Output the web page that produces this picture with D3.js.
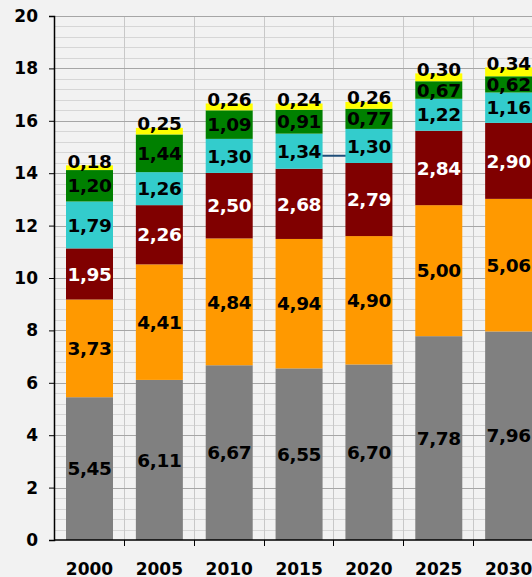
<!DOCTYPE html>
<html>
<head>
<meta charset="utf-8">
<script src="https://cdn.jsdelivr.net/npm/d3@7"></script>
<style>
  html, body { margin: 0; padding: 0; background: #f2f2f2; }
  svg { display: block; }
  text { font-family: "DejaVu Sans", Verdana, sans-serif; font-weight: bold; }
</style>
</head>
<body>
<svg id="chart" width="532" height="577"></svg>
<script>
// Categories and stacked series (bottom to top)
const years = ["2000", "2005", "2010", "2015", "2020", "2025", "2030"];
const seriesGray   = [5.45, 6.11, 6.67, 6.55, 6.70, 7.78, 7.96];
const seriesOrange = [3.73, 4.41, 4.84, 4.94, 4.90, 5.00, 5.06];
const seriesRed    = [1.95, 2.26, 2.50, 2.68, 2.79, 2.84, 2.90];
const seriesCyan   = [1.79, 1.26, 1.30, 1.34, 1.30, 1.22, 1.16];
const seriesGreen  = [1.20, 1.44, 1.09, 0.91, 0.77, 0.67, 0.62];
const seriesYellow = [0.18, 0.25, 0.26, 0.24, 0.26, 0.30, 0.34];
const yTicks = [0, 2, 4, 6, 8, 10, 12, 14, 16, 18, 20];
// Short line series visible between two bars
const lineYears  = ["2015", "2020"];
const lineValues = [14.67, 14.67];

const series = [
  { key: "gray",   values: seriesGray,   fill: "#808080", text: "#000" },
  { key: "orange", values: seriesOrange, fill: "#ff9900", text: "#000" },
  { key: "red",    values: seriesRed,    fill: "#800000", text: "#fff" },
  { key: "cyan",   values: seriesCyan,   fill: "#33cccc", text: "#000" },
  { key: "green",  values: seriesGreen,  fill: "#008000", text: "#000" },
  { key: "yellow", values: seriesYellow, fill: "#ffff00", text: "#000", above: true }
];

const rows = years.map((yr, i) => {
  const r = { year: yr };
  series.forEach(s => r[s.key] = s.values[i]);
  return r;
});
const stacked = d3.stack().keys(series.map(s => s.key))(rows);

const svg = d3.select("#chart");
const m = { left: 54, top: 16, bottom: 540, right: 543 };

const x = d3.scaleBand().domain(years).range([m.left, m.right]).paddingInner(0).paddingOuter(0);
const y = d3.scaleLinear().domain([0, 20]).range([m.bottom, m.top]);
const fmt = v => d3.format(".2f")(v).replace(".", ",");

// Minor horizontal grid
const minor = d3.range(0, 20.01, 0.4).filter(v => Math.abs(v / 2 - Math.round(v / 2)) > 1e-6);
svg.append("g").selectAll("line").data(minor).join("line")
  .attr("x1", m.left).attr("x2", m.right)
  .attr("y1", d => Math.round(y(d)) + 0.5).attr("y2", d => Math.round(y(d)) + 0.5)
  .attr("stroke", "#d6d6d6").attr("stroke-width", 1);

// Vertical grid at category boundaries
svg.append("g").selectAll("line").data(years.slice(1)).join("line")
  .attr("x1", d => Math.round(x(d)) + 0.5).attr("x2", d => Math.round(x(d)) + 0.5)
  .attr("y1", m.top).attr("y2", m.bottom)
  .attr("stroke", "#c8c8c8").attr("stroke-width", 1);

// Major horizontal grid
svg.append("g").selectAll("line").data(yTicks.slice(1)).join("line")
  .attr("x1", m.left).attr("x2", m.right)
  .attr("y1", d => Math.round(y(d)) + 0.5).attr("y2", d => Math.round(y(d)) + 0.5)
  .attr("stroke", "#a6a6a6").attr("stroke-width", 1);

// Line series drawn behind the bars
const lx = d => x(d) + x.bandwidth() / 2;
svg.append("path")
  .datum(lineYears.map((d, i) => [lx(d), y(lineValues[i])]))
  .attr("d", d3.line())
  .attr("fill", "none").attr("stroke", "#1f4e79").attr("stroke-width", 2);

// Bars
const barW = 47, barOff = 12;
const layers = svg.append("g").selectAll("g").data(stacked).join("g")
  .attr("fill", (d, i) => series[i].fill);
layers.selectAll("rect").data(d => d).join("rect")
  .attr("x", d => x(d.data.year) + barOff)
  .attr("width", barW)
  .attr("y", d => y(d[1]))
  .attr("height", d => y(d[0]) - y(d[1]));

// Value labels
stacked.forEach((layer, i) => {
  const s = series[i];
  svg.append("g").selectAll("text").data(layer).join("text")
    .attr("x", d => x(d.data.year) + barOff + barW / 2)
    .attr("y", d => s.above ? y(d[1]) + 2.5 : y((d[0] + d[1]) / 2))
    .attr("dy", s.above ? 0 : "0.36em")
    .attr("text-anchor", "middle")
    .attr("font-size", 18.5)
    .attr("letter-spacing", -0.4)
    .attr("fill", s.text)
    .text(d => fmt(d[1] - d[0]));
});

// Y axis
const yAxis = svg.append("g").attr("transform", `translate(${m.left},0)`)
  .call(d3.axisLeft(y).tickValues(yTicks).tickSize(5).tickPadding(11).tickFormat(d3.format("d")));
yAxis.select(".domain").attr("stroke", "#000").attr("stroke-width", 1.5);
yAxis.selectAll(".tick line").attr("stroke", "#000");
yAxis.selectAll(".tick text").attr("font-size", 17).attr("fill", "#000")
  .attr("font-family", "DejaVu Sans").attr("font-weight", "bold");

// X axis: ticks at category boundaries, labels centred on bars
const xAxisG = svg.append("g").attr("transform", `translate(0,${m.bottom})`);
xAxisG.append("line").attr("x1", m.left).attr("x2", m.right).attr("stroke", "#000").attr("stroke-width", 1.5);
xAxisG.selectAll("line.tk").data(years.slice(1)).join("line").attr("class", "tk")
  .attr("x1", d => Math.round(x(d)) + 0.5).attr("x2", d => Math.round(x(d)) + 0.5)
  .attr("y1", 0).attr("y2", 6).attr("stroke", "#000");
xAxisG.selectAll("text.lbl").data(years).join("text").attr("class", "lbl")
  .attr("x", d => x(d) + barOff + barW / 2)
  .attr("y", 35)
  .attr("text-anchor", "middle")
  .attr("font-size", 17).attr("fill", "#000")
  .text(d => d);
</script>
</body>
</html>
